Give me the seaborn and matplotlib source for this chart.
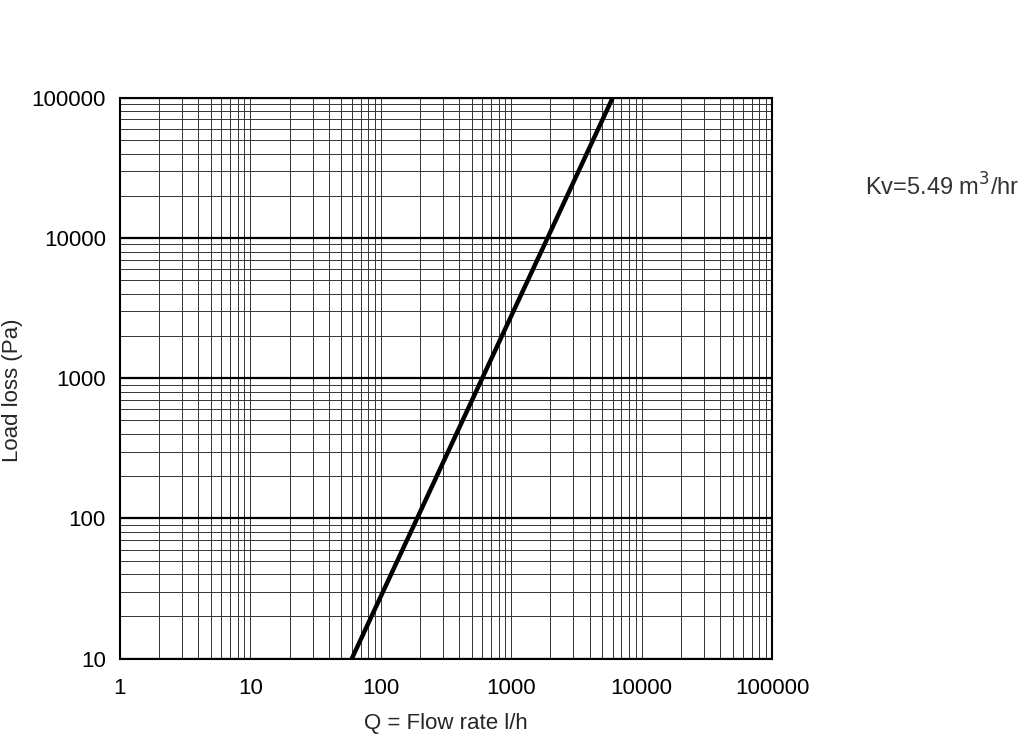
import numpy as np
import pandas as pd
import matplotlib
matplotlib.use("Agg")
import matplotlib.pyplot as plt
import matplotlib.ticker as mticker
import seaborn as sns

# Valeurs
debit = [60, 190, 600, 1900, 6000]          # Q (l/h)
perte = [10, 100, 1000, 10000, 100000]      # perte de charge (Pa)
x_ticks = [1, 10, 100, 1000, 10000, 100000]
y_ticks = [10, 100, 1000, 10000, 100000]

df = pd.DataFrame({"Q": debit, "dp": perte})

sns.set_style("white")
plt.rcParams['font.family'] = ['Liberation Sans', 'DejaVu Sans']

fig = plt.figure(figsize=(10.24, 7.46), dpi=100)
ax = fig.add_axes([0.117, 0.117, 0.637, 0.752])

ax.set_xscale("log")
ax.set_yscale("log")
ax.set_xlim(1, 100000)
ax.set_ylim(10, 100000)

# Grille
ax.xaxis.set_major_locator(mticker.FixedLocator(x_ticks))
ax.yaxis.set_major_locator(mticker.FixedLocator(y_ticks))
ax.xaxis.set_minor_locator(mticker.LogLocator(base=10, subs=np.arange(2, 10)))
ax.yaxis.set_minor_locator(mticker.LogLocator(base=10, subs=np.arange(2, 10)))
ax.xaxis.set_major_formatter(mticker.FixedFormatter([str(v) for v in x_ticks]))
ax.yaxis.set_major_formatter(mticker.FixedFormatter([str(v) for v in y_ticks]))
ax.xaxis.set_minor_formatter(mticker.NullFormatter())
ax.yaxis.set_minor_formatter(mticker.NullFormatter())

ax.grid(which="minor", axis="both", color="#333333", linewidth=0.7)
ax.grid(which="major", axis="x", color="#333333", linewidth=0.7)
ax.grid(which="major", axis="y", color="black", linewidth=1.6)
ax.tick_params(which="both", length=0, labelsize=16, pad=10, colors="black")
ax.tick_params(axis="x", pad=14)

sns.lineplot(data=df, x="Q", y="dp", ax=ax, color="black", linewidth=3.2)

for s in ax.spines.values():
    s.set_color("black")
    s.set_linewidth(1.5)

ax.set_xlabel("Q = Flow rate l/h", fontsize=16, labelpad=10)
ax.set_ylabel("")
fig.text(0.012, 0.477, "Load loss (Pa)", fontsize=16, rotation=90,
         ha="center", va="center")

fig.text(0.845, 0.75, "Kv=5.49 m$^3$/hr", fontsize=17, ha="left", va="center",
         color="#333333")

plt.savefig("out.png", dpi=100)
